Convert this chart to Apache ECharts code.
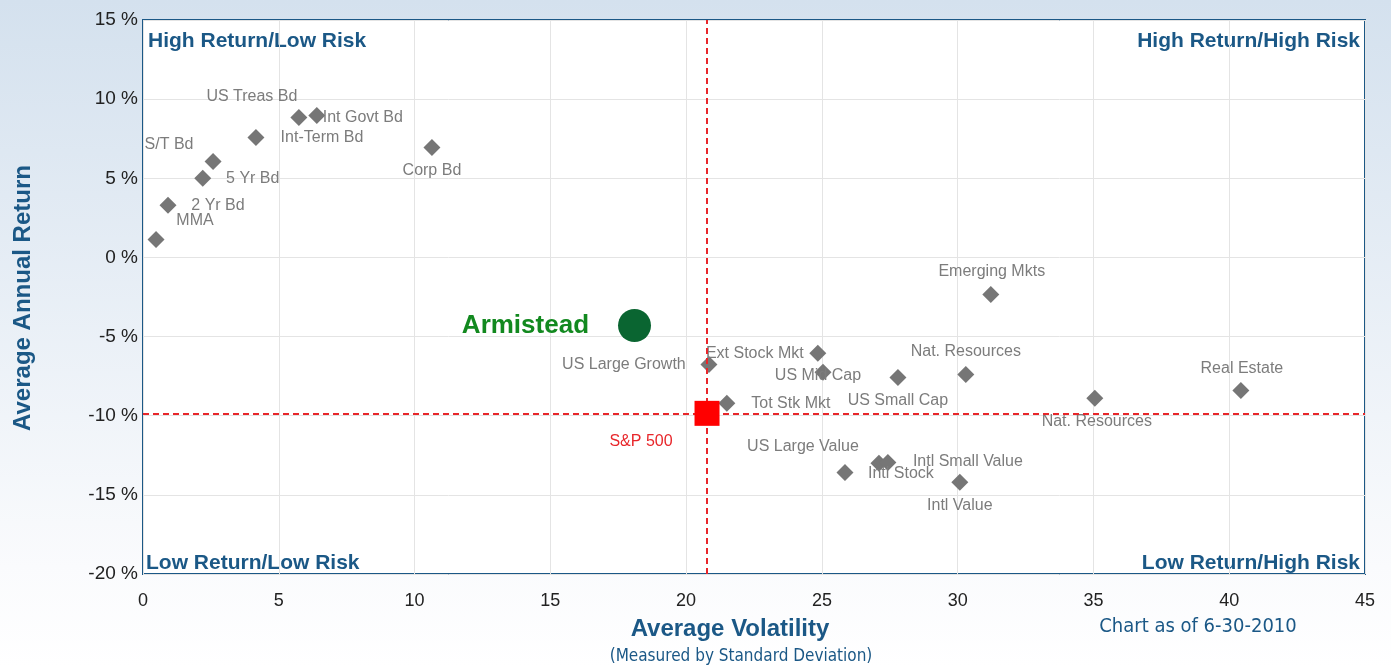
<!DOCTYPE html>
<html>
<head>
<meta charset="utf-8">
<script src="https://cdn.jsdelivr.net/npm/echarts@6/dist/echarts.min.js"></script>
<style>html,body{margin:0;padding:0;}#c{width:1391px;height:667px;}</style>
</head>
<body>
<div id="c"></div>
<script>
// ---- data ----
const fundNames = ['MMA','2 Yr Bd','5 Yr Bd','S/T Bd','Int-Term Bd','US Treas Bd','Int Govt Bd','Corp Bd',
  'Emerging Mkts','US Large Growth','Ext Stock Mkt','US Mid Cap','US Small Cap','Nat. Resources','Tot Stk Mkt',
  'Nat. Resources','Real Estate','US Large Value','Intl Stock','Intl Small Value','Intl Value'];
const fundVolatility = [0.48,0.92,2.2,2.58,4.16,5.74,6.4,10.64,
  31.22,20.84,24.85,25.04,27.8,30.3,21.5,
  35.05,40.43,25.85,27.1,27.43,30.08];
const fundReturn = [1.14,3.3,5.0,6.06,7.58,8.84,8.97,6.95,
  -2.34,-6.76,-6.06,-7.26,-7.58,-7.39,-9.22,
  -8.9,-8.4,-13.58,-13.0,-12.95,-14.2];
const armisteadName = 'Armistead';
const armisteadPoint = [18.1, -4.3];
const benchmarkName = 'S&P 500';
const benchmarkPoint = [20.77, -9.85];
const xTicks = [0,5,10,15,20,25,30,35,40,45];
const yTicks = [-20,-15,-10,-5,0,5,10,15];
const quadrantLabels = ['High Return/Low Risk','High Return/High Risk','Low Return/Low Risk','Low Return/High Risk'];

// ---- label placement (style) ----
const labelOffsets = [[39,-19],[50,0],[50,0],[-44,-17],[66,0],[-47,-21],[46,2],[0,23],
  [1,-23],[-85,0],[-63,0],[-5,3],[0,23],[0,-23],[64,0],
  [2,23],[1,-22],[-42,-26],[22,10],[80,-1],[0,23]];

const blue = '#1b5886';
const fundData = fundNames.map((n,i)=>({
  name:n, value:[fundVolatility[i], fundReturn[i]],
  label:{offset:labelOffsets[i]}
}));

const chart = echarts.init(document.getElementById('c'));
chart.setOption({
  backgroundColor:{type:'linear',x:0,y:0,x2:0,y2:1,colorStops:[{offset:0,color:'#d4e1ee'},{offset:0.85,color:'#fafbfd'},{offset:1,color:'#ffffff'}]},
  animation:false,
  grid:{left:143,right:26,top:20,bottom:93,show:true,backgroundColor:'#ffffff',borderColor:blue,borderWidth:2},
  xAxis:{type:'value',min:xTicks[0],max:xTicks[xTicks.length-1],interval:5,
    axisLine:{show:false},axisTick:{show:false},
    splitLine:{lineStyle:{color:'#e4e4e4',width:1}},
    axisLabel:{color:'#222',fontSize:18,fontFamily:'Liberation Sans, Arial',margin:18}},
  yAxis:{type:'value',min:yTicks[0],max:yTicks[yTicks.length-1],interval:5,
    axisLine:{show:false},axisTick:{show:false},
    splitLine:{lineStyle:{color:'#e4e4e4',width:1}},
    axisLabel:{color:'#222',fontSize:19,fontFamily:'Liberation Sans, Arial',margin:5,formatter:v=>v+' %'}},
  series:[
    {type:'scatter',name:'Funds',data:fundData,symbol:'diamond',symbolSize:17,
      itemStyle:{color:'#767676',opacity:1},
      label:{show:true,position:'inside',formatter:p=>p.name,color:'#7c7c7c',fontSize:16,fontFamily:'Liberation Sans, Arial',align:'center',verticalAlign:'middle'},
      z:3},
    {type:'scatter',name:armisteadName,data:[{name:armisteadName,value:armisteadPoint}],symbol:'circle',symbolSize:33,
      itemStyle:{color:'#0a6531',opacity:1},
      label:{show:true,position:'left',distance:29,formatter:p=>p.name,color:'#12891f',fontSize:26,fontWeight:'bold',fontFamily:'Liberation Sans, Arial'},
      z:4},
    {type:'scatter',name:benchmarkName,data:[{name:benchmarkName,value:benchmarkPoint}],symbol:'rect',symbolSize:25,
      itemStyle:{color:'#ff0000',opacity:1},
      label:{show:true,position:'inside',offset:[-66,28],formatter:p=>p.name,color:'#e8262a',fontSize:16,fontFamily:'Liberation Sans, Arial'},
      markLine:{silent:true,symbol:'none',label:{show:false},
        lineStyle:{color:'#e8262a',type:[6,4],width:2,opacity:1},
        data:[{xAxis:benchmarkPoint[0]},{yAxis:benchmarkPoint[1]}]},
      z:5}
  ],
  graphic:[
    {type:'text',left:148,top:31,style:{text:quadrantLabels[0],fill:blue,font:'bold 21px Liberation Sans, Arial'}},
    {type:'text',right:31,top:31,style:{text:quadrantLabels[1],fill:blue,font:'bold 21px Liberation Sans, Arial'}},
    {type:'text',left:146,top:553,style:{text:quadrantLabels[2],fill:blue,font:'bold 21px Liberation Sans, Arial'}},
    {type:'text',right:31,top:553,style:{text:quadrantLabels[3],fill:blue,font:'bold 21px Liberation Sans, Arial'}},
    {type:'text',x:23,y:298,rotation:Math.PI/2,style:{text:'Average Annual Return',fill:blue,font:'bold 24px Liberation Sans, Arial',align:'center',verticalAlign:'middle'}},
    {type:'text',x:730,y:629,style:{text:'Average Volatility',fill:blue,font:'bold 24px Liberation Sans, Arial',align:'center',verticalAlign:'middle'}},
    {type:'text',x:741,y:657,style:{text:'(Measured by Standard Deviation)',fill:blue,font:'17px Liberation Sans Narrow, DejaVu Sans Condensed, Arial',align:'center',verticalAlign:'middle'}},
    {type:'text',x:1198,y:627,style:{text:'Chart as of 6-30-2010',fill:blue,font:'20px Liberation Sans Narrow, DejaVu Sans Condensed, Arial',align:'center',verticalAlign:'middle'}}
  ]
});
</script>
</body>
</html>
